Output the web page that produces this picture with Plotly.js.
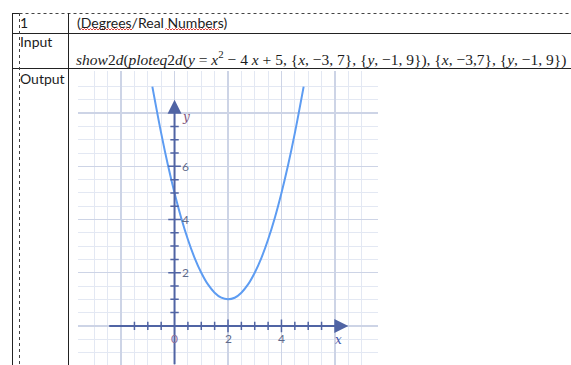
<!DOCTYPE html>
<html>
<head>
<meta charset="utf-8">
<script src="https://cdn.plot.ly/plotly-3.0.1.min.js"></script>
<style>
  html, body { margin: 0; padding: 0; background: #ffffff; }
  #chart { width: 571px; height: 365px; }
</style>
</head>
<body>
<div id="chart"></div>
<script>
const curveX = [-0.83, -0.5, -0.25, 0, 0.25, 0.5, 0.75, 1, 1.25, 1.5, 1.75, 2,
                2.25, 2.5, 2.75, 3, 3.25, 3.5, 3.75, 4, 4.25, 4.5, 4.83];
const curveY = [9.0, 7.25, 6.06, 5.0, 4.06, 3.25, 2.56, 2.0, 1.56, 1.25, 1.06, 1.0,
                1.06, 1.25, 1.56, 2.0, 2.56, 3.25, 4.06, 5.0, 6.06, 7.25, 9.0];

// Viewing window of the plot and its grid
const xRange = [-3.6, 7.6];
const yRange = [-1.47, 9.6];
const xGridMajor = [-2, 0, 2, 4, 6];
const yGridMajor = [0, 2, 4, 6, 8];
const xGridMinor = [-3, -2.5, -1.5, -1, -0.5, 0.5, 1, 1.5, 2.5, 3, 3.5, 4.5, 5, 5.5, 6.5, 7];
const yGridMinor = [-1, -0.5, 0.5, 1, 1.5, 2.5, 3, 3.5, 4.5, 5, 5.5, 6.5, 7, 7.5, 8.5, 9];

// Axes drawn through the origin
const xAxisSpan = [-2.5, 6.5];
const yAxisSpan = [-1.5, 8.5];
const xAxisMinorTicks = [-1.5, -1, -0.5, 0.5, 1, 1.5, 2.5, 3, 3.5, 4.5, 5, 5.5];
const xAxisMajorTicks = [2, 4];
const yAxisMinorTicks = [0.5, 1, 1.5, 2.5, 3, 3.5, 4.5, 5, 5.5, 6.5, 7, 7.5];
const yAxisMajorTicks = [2, 4, 6];
const xTickLabels = ['2', '4'];
const yTickLabels = ['2', '4', '6'];

// Document table text
const rowLabels = ['1', 'Input', 'Output'];
const headerText = '(Degrees/Real Numbers)';
const inputText = '<i>show</i>2<i>d</i>(<i>ploteq</i>2<i>d</i>(<i>y</i> = <i>x</i><sup>2</sup> \u2212 4 <i>x</i> + 5, {<i>x</i>, \u22123, 7}, {<i>y</i>, \u22121, 9}), {<i>x</i>, \u22123,7}, {<i>y</i>, \u22121, 9})';

const W = 571, H = 365;
const px = x => x / W;
const py = y => 1 - y / H;

const AXIS = '#5064a4';
const GRID_MAJOR = '#cdd4e6';
const GRID_MINOR = '#e3e8f3';
const INK = '#1c1c1c';

const traces = [
  {
    x: curveX, y: curveY, type: 'scatter', mode: 'lines',
    line: { color: '#5d9cf2', width: 2, shape: 'spline', smoothing: 1 },
    hoverinfo: 'skip'
  },
  {
    x: xAxisMinorTicks, y: xAxisMinorTicks.map(() => 0), type: 'scatter', mode: 'markers',
    marker: { symbol: 'line-ns', size: 6, line: { color: AXIS, width: 1.5 } },
    hoverinfo: 'skip'
  },
  {
    x: xAxisMajorTicks, y: xAxisMajorTicks.map(() => 0), type: 'scatter', mode: 'markers',
    marker: { symbol: 'line-ns', size: 9, line: { color: AXIS, width: 1.5 } },
    hoverinfo: 'skip'
  },
  {
    x: yAxisMinorTicks.map(() => 0), y: yAxisMinorTicks, type: 'scatter', mode: 'markers',
    marker: { symbol: 'line-ew', size: 6, line: { color: AXIS, width: 1.5 } },
    hoverinfo: 'skip'
  },
  {
    x: yAxisMajorTicks.map(() => 0), y: yAxisMajorTicks, type: 'scatter', mode: 'markers',
    marker: { symbol: 'line-ew', size: 9, line: { color: AXIS, width: 1.5 } },
    hoverinfo: 'skip'
  }
];

// Red spell-check squiggle under a word
function squiggle(x0, x1, y) {
  let d = 'M ' + px(x0) + ' ' + py(y);
  let up = true;
  for (let x = x0 + 1.5; x <= x1; x += 1.5) {
    d += ' L ' + px(x) + ' ' + py(up ? y - 1 : y + 0.5);
    up = !up;
  }
  return { type: 'path', xref: 'paper', yref: 'paper', path: d,
           line: { color: '#e0403a', width: 1 } };
}

const tableLine = (x0, y0, x1, y1, dash) => ({
  type: 'line', xref: 'paper', yref: 'paper',
  x0: px(x0), y0: py(y0), x1: px(x1), y1: py(y1),
  line: { color: dash ? '#444444' : '#222222', width: 1, dash: dash || 'solid' }
});

const shapes = [
  tableLine(12, 13.5, 19.5, 13.5),
  tableLine(19.5, 13.5, 571, 13.5, 'dot'),
  tableLine(12, 33.5, 571, 33.5),
  tableLine(12, 68.5, 571, 68.5),
  tableLine(12.5, 13, 12.5, 365),
  tableLine(19.5, 13, 19.5, 365, 'dot'),
  tableLine(68.5, 13, 68.5, 365),
  squiggle(80, 133, 29.5),
  squiggle(165, 219, 29.5)
];

const textFont = { family: 'Lato, "Open Sans", sans-serif', size: 14, color: INK };
const annotations = [
  { xref: 'paper', yref: 'paper', x: px(18), y: py(23), text: rowLabels[0],
    showarrow: false, xanchor: 'left', yanchor: 'middle', font: textFont },
  { xref: 'paper', yref: 'paper', x: px(18), y: py(42), text: rowLabels[1],
    showarrow: false, xanchor: 'left', yanchor: 'middle', font: textFont },
  { xref: 'paper', yref: 'paper', x: px(18), y: py(78), text: rowLabels[2],
    showarrow: false, xanchor: 'left', yanchor: 'middle', font: textFont },
  { xref: 'paper', yref: 'paper', x: px(75), y: py(23), text: headerText,
    showarrow: false, xanchor: 'left', yanchor: 'middle', font: textFont },
  { xref: 'paper', yref: 'paper', x: px(74), y: py(58.5), text: inputText,
    showarrow: false, xanchor: 'left', yanchor: 'middle',
    font: { family: '"Liberation Serif", serif', size: 15.5, color: INK } },

  // axis arrows
  { x: xAxisSpan[1], y: 0, ax: xAxisSpan[0], ay: 0, axref: 'x', ayref: 'y',
    text: '', showarrow: true, arrowhead: 2, arrowsize: 1.4, arrowwidth: 2, arrowcolor: AXIS },
  { x: 0, y: yAxisSpan[1], ax: 0, ay: yAxisSpan[0], axref: 'x', ayref: 'y',
    text: '', showarrow: true, arrowhead: 2, arrowsize: 1.4, arrowwidth: 2, arrowcolor: AXIS },

  // axis names
  { x: 6.13, y: -0.52, text: '<i>x</i>', showarrow: false,
    font: { family: '"DejaVu Serif", serif', size: 12, color: '#4454a8' } },
  { x: 0.42, y: 7.85, text: '<i>y</i>', showarrow: false,
    font: { family: '"DejaVu Serif", serif', size: 12, color: '#7e4f78' } },

  // origin label
  { x: 0, y: -0.47, text: '0', showarrow: false,
    font: { family: 'Lato, sans-serif', size: 12, color: '#8a6f9c' } }
];

xTickLabels.forEach(t => annotations.push({
  x: Number(t), y: -0.49, text: t, showarrow: false,
  font: { family: 'Lato, sans-serif', size: 12, color: '#5f6b8c' }
}));
yTickLabels.forEach(t => annotations.push({
  x: 0.42, y: Number(t), text: t, showarrow: false,
  font: { family: 'Lato, sans-serif', size: 12, color: '#5f6b8c' }
}));

const layout = {
  width: W, height: H, autosize: false,
  margin: { l: 0, r: 0, t: 0, b: 0, pad: 0 },
  paper_bgcolor: '#ffffff', plot_bgcolor: '#ffffff',
  showlegend: false,
  xaxis: {
    domain: [px(78.3), px(377.7)], range: xRange,
    tickmode: 'array', tickvals: xGridMajor,
    showgrid: true, gridcolor: GRID_MAJOR, gridwidth: 1.5,
    minor: { tickmode: 'array', tickvals: xGridMinor, showgrid: true, gridcolor: GRID_MINOR, gridwidth: 1 },
    zeroline: false, showline: false, showticklabels: false, ticks: '', fixedrange: true
  },
  yaxis: {
    domain: [0, py(70.6)], range: yRange,
    tickmode: 'array', tickvals: yGridMajor,
    showgrid: true, gridcolor: GRID_MAJOR, gridwidth: 1.5,
    minor: { tickmode: 'array', tickvals: yGridMinor, showgrid: true, gridcolor: GRID_MINOR, gridwidth: 1 },
    zeroline: false, showline: false, showticklabels: false, ticks: '', fixedrange: true
  },
  shapes: shapes,
  annotations: annotations
};

Plotly.newPlot('chart', traces, layout, { staticPlot: true, displayModeBar: false });
</script>
</body>
</html>
